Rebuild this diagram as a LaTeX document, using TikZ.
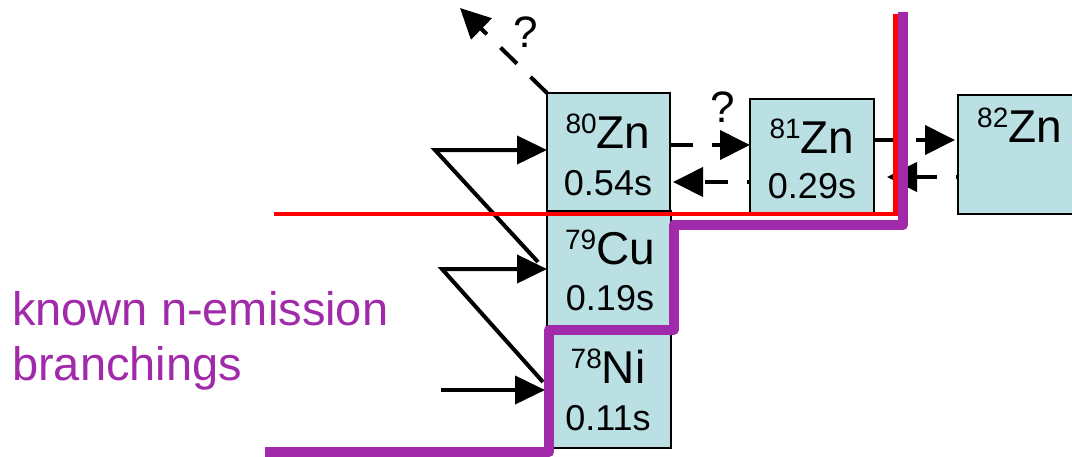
\documentclass[tikz,border=0pt]{standalone}
\usepackage{fontspec}
\setmainfont{Liberation Sans}
\usetikzlibrary{arrows.meta}
\definecolor{boxfill}{RGB}{186,224,228}
\definecolor{nucpurple}{RGB}{161,42,170}
\definecolor{nucred}{RGB}{255,0,0}
\newcommand{\nucsym}[2]{{\fontsize{28}{30}\selectfont\raisebox{15pt}{#1}}#2}
\begin{document}
\begin{tikzpicture}[x=1pt,y=-1pt,
  nucbox/.style={draw=black,line width=2pt,fill=boxfill,inner sep=0pt,outer sep=0pt},
  symtext/.style={inner sep=0pt,anchor=base,font=\fontsize{46}{50}\selectfont},
  timetext/.style={inner sep=0pt,anchor=base,font=\fontsize{36}{40}\selectfont},
  qtext/.style={inner sep=0pt,anchor=base,font=\fontsize{44}{48}\selectfont},
  labtext/.style={inner sep=0pt,anchor=base west,text=nucpurple,font=\fontsize{47}{52}\selectfont},
  feedline/.style={line width=4pt,-{Triangle[length=30pt,width=28pt]}},
  dasharr/.style={line width=4pt,dash pattern=on 23pt off 19pt,-{Triangle[length=30pt,width=29pt]}},
  redline/.style={draw=nucred,line width=4.5pt},
  purpline/.style={draw=nucpurple,line width=10pt,line join=round}
]
\useasboundingbox (0,0) rectangle (1072,456);
\clip (0,0) rectangle (1072,456);

% nuclide boxes
\node[nucbox,minimum width=123pt,minimum height=118pt] (zn80) at (608.5,152) {};
\node[nucbox,minimum width=124pt,minimum height=114pt] (zn81) at (812,156) {};
\node[nucbox,minimum width=137pt,minimum height=119pt] (zn82) at (1026.5,154.5) {};
\node[nucbox,minimum width=124pt,minimum height=118pt] (cu79) at (609,270) {};
\node[nucbox,minimum width=123pt,minimum height=119pt] (ni78) at (609.5,388.5) {};

% texts in boxes
\node[symtext] (zn80s) at (608,148) {\nucsym{80}{Zn}};
\node[timetext] (zn80t) at (608,195) {0.54s};
\node[symtext] (zn81s) at (812,153) {\nucsym{81}{Zn}};
\node[timetext] (zn81t) at (812,198) {0.29s};
\node[symtext,anchor=base west] (zn82s) at (977,142) {\nucsym{82}{Zn}};
\node[symtext] (cu79s) at (610,264) {\nucsym{79}{Cu}};
\node[timetext] (cu79t) at (610,310) {0.19s};
\node[symtext] (ni78s) at (608,383) {\nucsym{78}{Ni}};
\node[timetext] (ni78t) at (608,430) {0.11s};

% question marks
\node[qtext] (q1) at (526,47) {?};
\node[qtext] (q2) at (723,122) {?};

% dashed arrows between Zn isotopes
\coordinate (uptip) at (460,8);
\draw[dasharr] (zn80.north west) -- (uptip);
\draw[dasharr] ([yshift=7pt]zn80.east) -- ([yshift=11pt]zn81.west);
\draw[dasharr,dash phase=20pt,shorten >=3pt] ([yshift=-26pt]zn81.west) -- ([yshift=-30pt]zn80.east);
\draw[dasharr,shorten >=3pt] ([yshift=16pt]zn81.east) -- ([yshift=14.5pt]zn82.west);
\draw[dasharr,dash phase=21pt,shorten >=13pt] ([yshift=-22.5pt]zn82.west) -- ([yshift=-21pt]zn81.east);

% feeding arrows
\coordinate (apexzn) at (435,150);
\coordinate (apexcu) at (442,269);
\coordinate (startni) at (441,390);
\draw[feedline] ([xshift=-9pt,yshift=8pt]cu79.west) -- (apexzn) -- ([yshift=2pt]zn80.west);
\draw[feedline] ([xshift=-5pt,yshift=6.5pt]ni78.west) -- (apexcu) -- ([yshift=1pt]cu79.west);
\draw[feedline] (startni) -- ([xshift=-3pt,yshift=-1.5pt]ni78.west);

% boundary lines
\draw[redline] (274,214) -- (895.5,214) -- (895.5,14);
\draw[purpline] (265,452) -- (549,452) -- (549,330) -- (673.5,330) -- (673.5,225) -- (903,225) -- (903,12);

% label
\node[labtext] (lab1) at (12,325) {known n-emission};
\node[labtext] (lab2) at (12,380) {branchings};
\end{tikzpicture}
\end{document}
